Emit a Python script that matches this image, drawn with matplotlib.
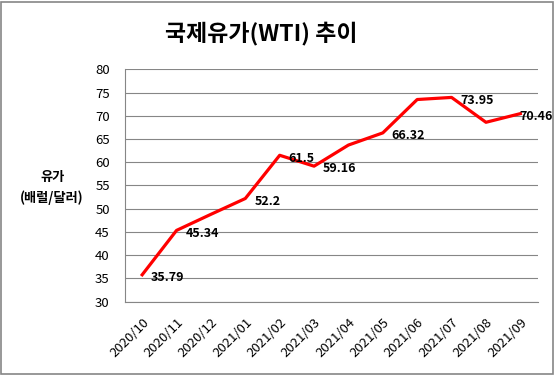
import matplotlib
matplotlib.use("Agg")
import matplotlib.pyplot as plt
from matplotlib.patches import Rectangle

plt.rcParams['font.family'] = ['Noto Sans CJK KR', 'DejaVu Sans']

# 월별 WTI 유가
months = ['2020/10', '2020/11', '2020/12', '2021/01', '2021/02', '2021/03',
          '2021/04', '2021/05', '2021/06', '2021/07', '2021/08', '2021/09']
prices = [35.79, 45.34, 48.8, 52.2, 61.5, 59.16, 63.7, 66.32, 73.5, 73.95, 68.6, 70.46]
# 라벨 표시하는 달
labeled = ['2020/10', '2020/11', '2021/01', '2021/02', '2021/03', '2021/05', '2021/07', '2021/09']
y_ticks = [30, 35, 40, 45, 50, 55, 60, 65, 70, 75, 80]

grey = '#868686'

fig = plt.figure(figsize=(5.55, 3.75), dpi=100)
ax = fig.add_axes([0.2252, 0.1955, 0.9685 - 0.2252, 0.8152 - 0.1955])

# 바깥 테두리
fig.patches.append(Rectangle((0.002, 0.003), 0.994, 0.993, transform=fig.transFigure,
                             fill=False, edgecolor=grey, linewidth=1.2))

x = list(range(len(months)))
ax.plot(x, prices, color='#FF0000', linewidth=2.3, zorder=3)

for i, m in enumerate(months):
    if m in labeled:
        dx = 6.5 if i < len(months) - 1 else -0.5  # 마지막 라벨은 영역 안쪽으로
        ax.annotate(f'{prices[i]:g}', (i, prices[i]), xytext=(dx, -2), textcoords='offset points',
                    ha='left', va='center', fontsize=9, fontweight='bold', zorder=4)

ax.set_xlim(-0.5, len(months) - 0.5)
ax.set_ylim(30, 80)
ax.set_yticks(y_ticks)
ax.set_xticks(x)
ax.set_xticklabels(months, rotation=45, ha='right', rotation_mode='anchor')
ax.tick_params(axis='both', length=0, labelsize=9.5)
ax.tick_params(axis='x', pad=10)
ax.tick_params(axis='y', pad=11)

ax.grid(axis='y', color=grey, linewidth=0.8)
ax.set_axisbelow(True)
for s in ['top', 'right']:
    ax.spines[s].set_visible(False)
for s in ['left', 'bottom']:
    ax.spines[s].set_color(grey)
    ax.spines[s].set_linewidth(0.8)

fig.text(0.47, 0.912, '국제유가(WTI) 추이', ha='center', va='center', fontsize=16.5, fontweight='bold')
fig.text(0.094, 0.528, '유가', ha='center', va='center', fontsize=9.5, fontweight='bold')
fig.text(0.094, 0.472, '(배럴/달러)', ha='center', va='center', fontsize=9.5, fontweight='bold')

fig.savefig('out.png', dpi=100)
